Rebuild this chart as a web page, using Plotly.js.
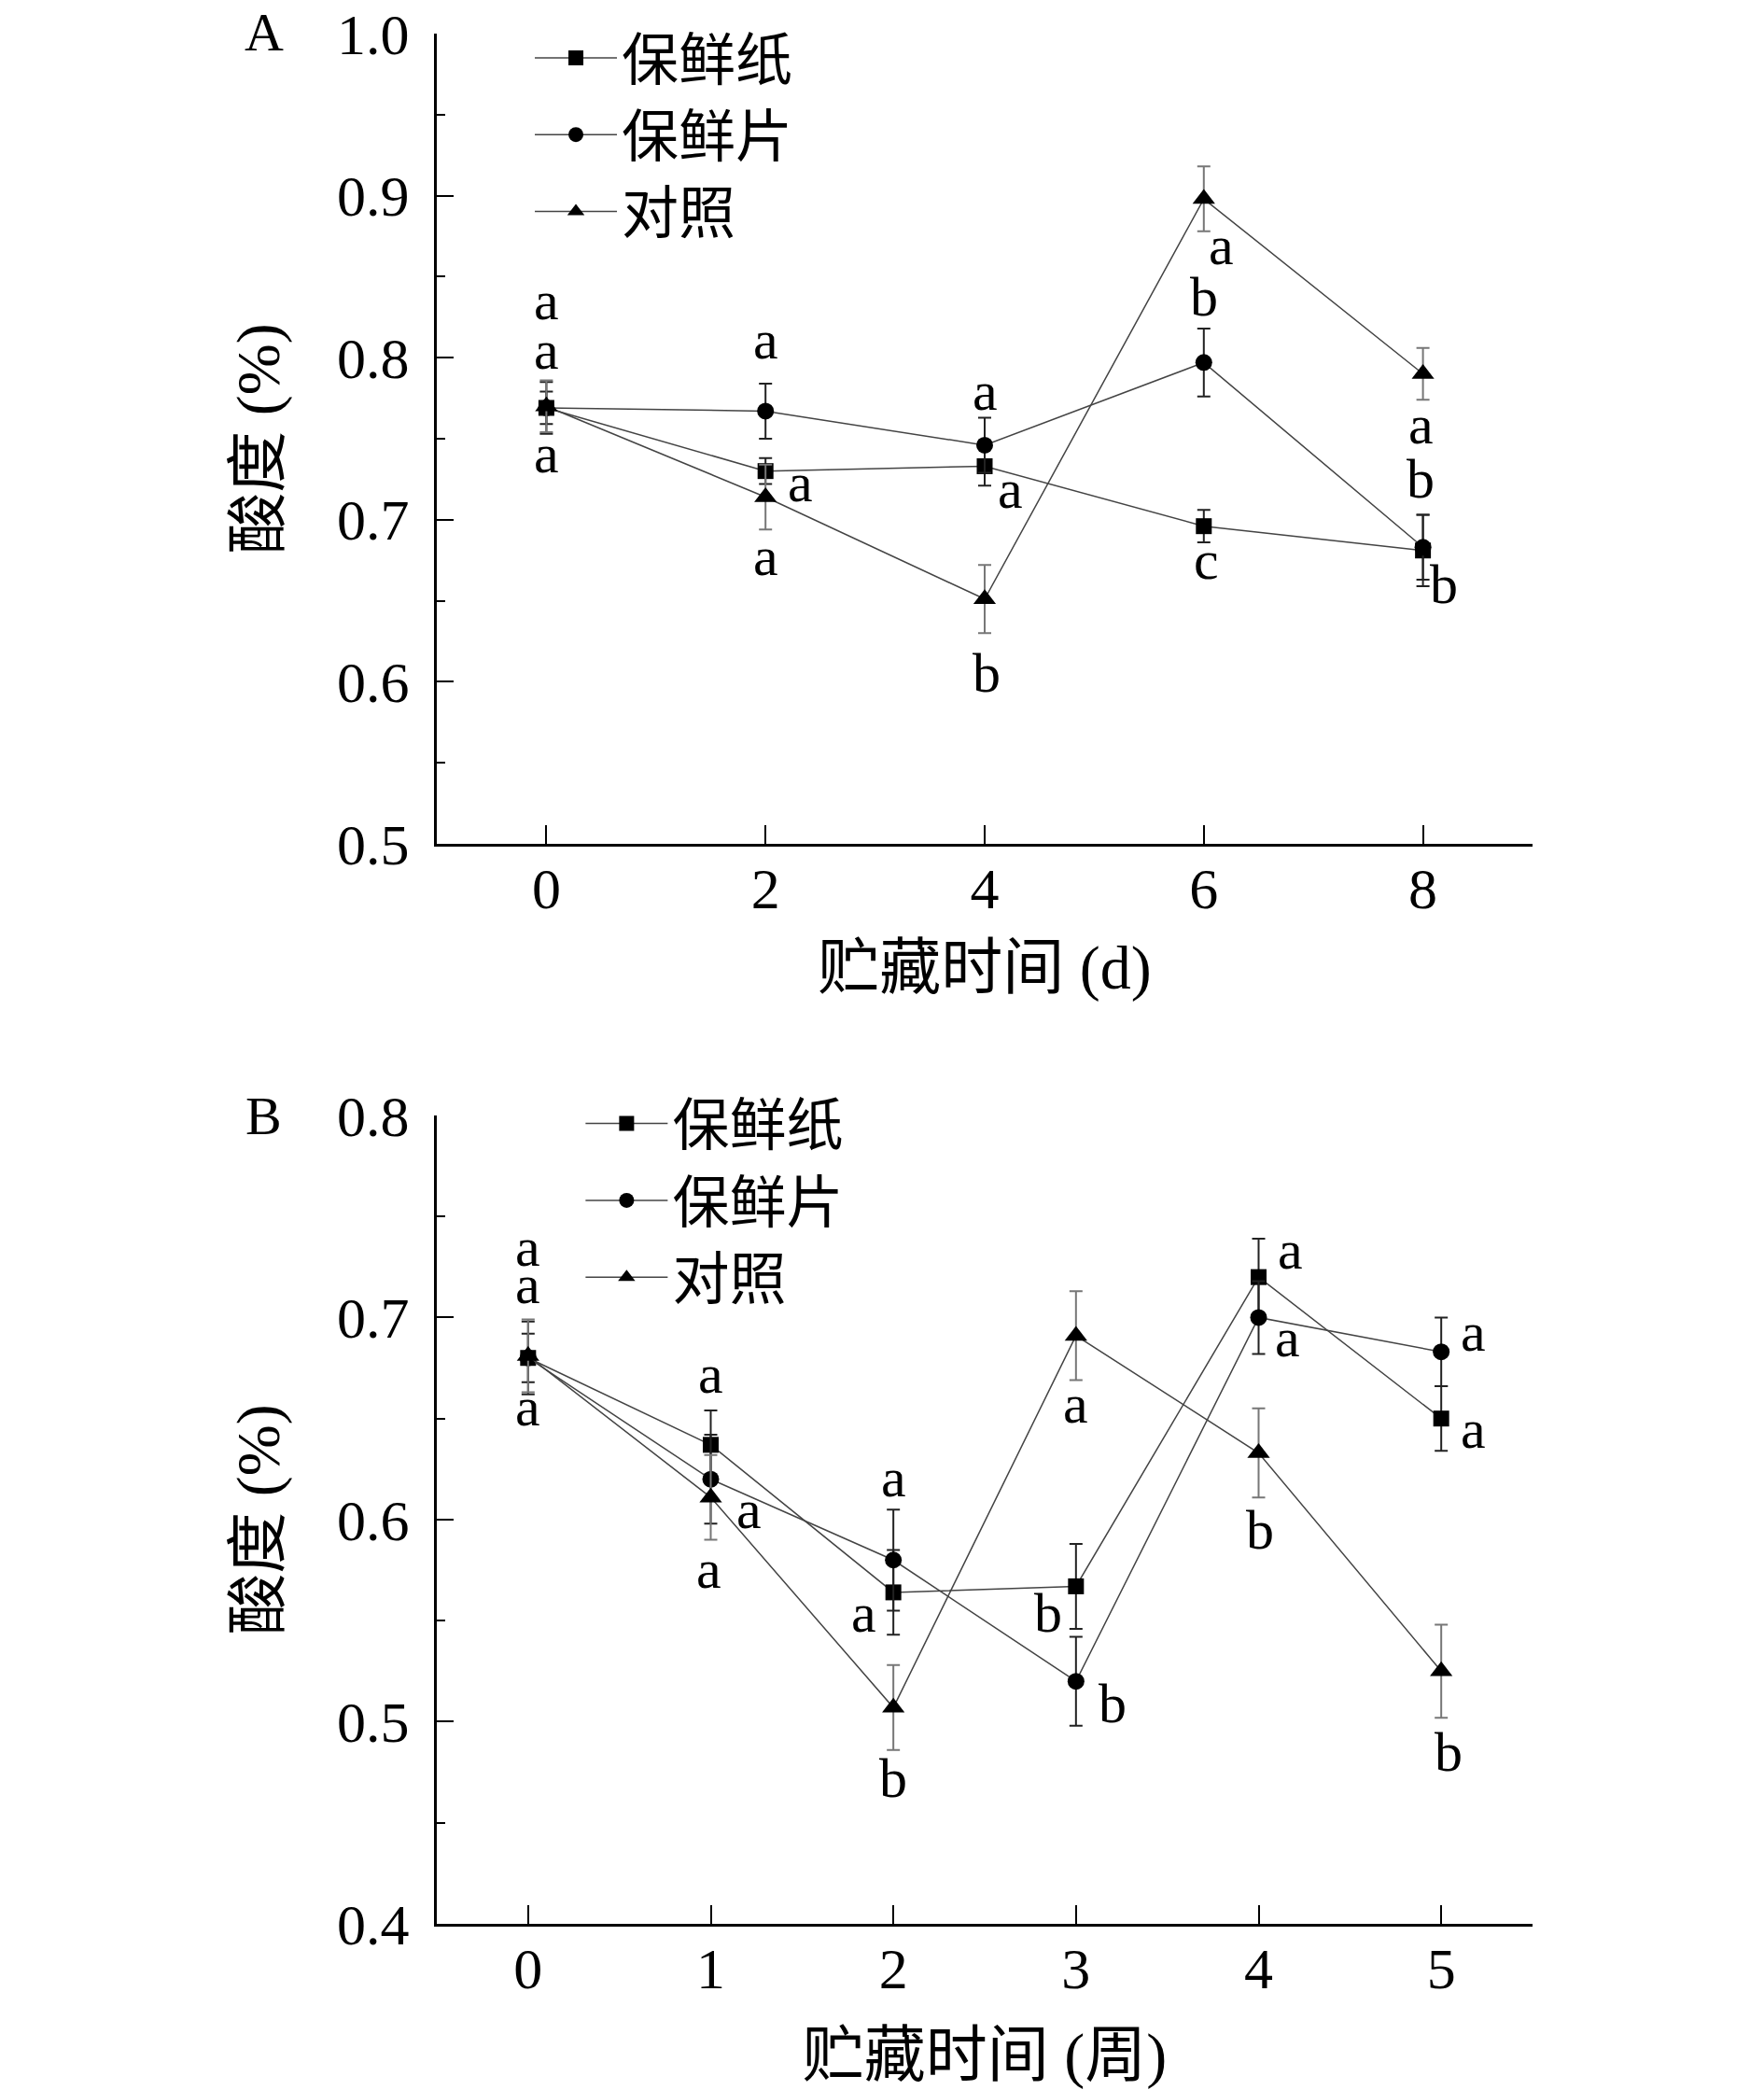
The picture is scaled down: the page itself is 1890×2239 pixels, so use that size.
<!DOCTYPE html>
<html><head><meta charset="utf-8">
<script src="https://cdn.plot.ly/plotly-3.0.1.min.js"></script>
<style>html,body{margin:0;padding:0;background:#fff}</style>
</head><body><div id="chart" style="width:1890px;height:2239px"></div>
<script>
// ---------- data: panel A (days) ----------
const daysA = [0, 2, 4, 6, 8];
const paperA = [0.769, 0.730, 0.733, 0.696, 0.681];
const paperAErr = [0.010, 0.008, 0.012, 0.010, 0.022];
const sheetA = [0.769, 0.767, 0.746, 0.797, 0.683];
const sheetAErr = [0.016, 0.017, 0.017, 0.021, 0.020];
const ctrlA = [0.770, 0.714, 0.651, 0.898, 0.790];
const ctrlAErr = [0.016, 0.020, 0.021, 0.020, 0.016];

const lettersAText = ['a','a','a', 'a','a','a', 'a','a','b', 'a','b','c', 'a','b','b'];
const lettersAX = [0, 0, 0, 2, 2.32, 2, 4, 4.23, 4.02, 6.16, 6, 6.02, 7.98, 7.98, 8.19];
const lettersAY = [0.833, 0.8026, 0.7385, 0.809, 0.7204, 0.675, 0.777, 0.7163, 0.6028, 0.8668, 0.8355, 0.6727, 0.7566, 0.7229, 0.6579];

// ---------- data: panel B (weeks) ----------
const weeksB = [0, 1, 2, 3, 4, 5];
const paperB = [0.680, 0.637, 0.564, 0.567, 0.720, 0.650];
const paperBErr = [0.012, 0.017, 0.021, 0.021, 0.019, 0.016];
const sheetB = [0.680, 0.620, 0.580, 0.520, 0.700, 0.683];
const sheetBErr = [0.018, 0.022, 0.025, 0.022, 0.018, 0.017];
const ctrlB = [0.681, 0.611, 0.507, 0.691, 0.633, 0.525];
const ctrlBErr = [0.018, 0.021, 0.021, 0.022, 0.022, 0.023];

const lettersBText = ['a','a','a', 'a','a','a', 'a','a','b', 'b','a','b', 'a','a','b', 'a','a','b'];
const lettersBX = [0, 0, 0, 1, 1.21, 0.99, 2, 1.84, 2, 2.85, 3, 3.2, 4.175, 4.16, 4.01, 5.175, 5.175, 5.04];
const lettersBY = [0.7334, 0.715, 0.6544, 0.6708, 0.6036, 0.574, 0.6194, 0.5522, 0.4705, 0.5522, 0.6557, 0.5074, 0.7321, 0.6886, 0.5937, 0.6913, 0.6432, 0.4837];

const seriesNames = ['保鲜纸', '保鲜片', '对照'];
const yTitle = '酸度 (%)';
const xTitleA = '贮藏时间 (d)';
const xTitleB = '贮藏时间 (周)';

// ---------- styling ----------
const FONT = '"Liberation Serif", "Times New Roman", "Noto Sans CJK SC", serif';
const symbols = ['square', 'circle', 'triangle-up'];
const sizes = [17, 18, 21];
const errColors = ['#222', '#222', '#777'];

function trace(x, y, err, i, xa, ya, legend) {
  return {
    x: x, y: y, name: seriesNames[i], type: 'scatter', mode: 'lines+markers',
    xaxis: xa, yaxis: ya, legend: legend,
    line: {color: '#444', width: 1.5},
    marker: {symbol: symbols[i], size: sizes[i], color: '#000'},
    error_y: {type: 'data', array: err, visible: true, color: errColors[i], thickness: 2, width: 7},
    cliponaxis: false
  };
}

const data = [
  trace(daysA, paperA, paperAErr, 0, 'x', 'y', 'legend'),
  trace(daysA, sheetA, sheetAErr, 1, 'x', 'y', 'legend'),
  trace(daysA, ctrlA, ctrlAErr, 2, 'x', 'y', 'legend'),
  trace(weeksB, paperB, paperBErr, 0, 'x2', 'y2', 'legend2'),
  trace(weeksB, sheetB, sheetBErr, 1, 'x2', 'y2', 'legend2'),
  trace(weeksB, ctrlB, ctrlBErr, 2, 'x2', 'y2', 'legend2')
];

const annotations = [];
lettersAText.forEach((t, i) => annotations.push({
  x: lettersAX[i], y: lettersAY[i], xref: 'x', yref: 'y', text: t, showarrow: false,
  xanchor: 'center', yanchor: 'middle', yshift: 4,
  font: {family: FONT, size: 60, color: '#000'}
}));
lettersBText.forEach((t, i) => annotations.push({
  x: lettersBX[i], y: lettersBY[i], xref: 'x2', yref: 'y2', text: t, showarrow: false,
  xanchor: 'center', yanchor: 'middle', yshift: 3,
  font: {family: FONT, size: 60, color: '#000'}
}));
annotations.push({x: -0.1576, y: 1.0005, xref: 'paper', yref: 'paper', text: 'A', showarrow: false,
  xanchor: 'center', yanchor: 'middle', font: {family: FONT, size: 58, color: '#000'}});
annotations.push({x: -0.1576, y: 0.4272, xref: 'paper', yref: 'paper', text: 'B', showarrow: false,
  xanchor: 'center', yanchor: 'middle', font: {family: FONT, size: 58, color: '#000'}});

function xaxis(anchor, range, dtick, title, standoff) {
  return {
    anchor: anchor, domain: [0, 1], range: range, dtick: dtick, tick0: 0,
    ticks: 'inside', ticklen: 20, tickwidth: 2, tickcolor: '#000',
    showline: true, linewidth: 3, linecolor: '#000', showgrid: false, zeroline: false,
    tickfont: {family: FONT, size: 62, color: '#000'},
    ticklabelstandoff: -8,
    title: {text: title, font: {family: FONT, size: 66, color: '#000'}, standoff: standoff}
  };
}
function yaxis(anchor, domain, range) {
  return {
    anchor: anchor, domain: domain, range: range, dtick: 0.1, tick0: 0, tickformat: '.1f',
    ticks: 'inside', ticklen: 18, tickwidth: 2, tickcolor: '#000',
    minor: {dtick: 0.05, ticks: 'inside', ticklen: 9, tickwidth: 2, tickcolor: '#000'},
    showline: true, linewidth: 3, linecolor: '#000', showgrid: false, zeroline: false,
    tickfont: {family: FONT, size: 62, color: '#000'},
    ticklabelstandoff: 14,
    title: {text: yTitle, font: {family: FONT, size: 66, color: '#000'}, standoff: 40}
  };
}

const legendCommon = {xanchor: 'left', yanchor: 'top', bgcolor: 'rgba(0,0,0,0)', itemwidth: 88,
  font: {family: FONT, size: 61, color: '#000'}};

const layout = {
  width: 1890, height: 2239,
  margin: {l: 468, r: 248, t: 36, b: 178},
  paper_bgcolor: '#fff', plot_bgcolor: '#fff',
  font: {family: FONT, color: '#000'},
  xaxis: xaxis('y', [-1, 9], 2, xTitleA, 28),
  yaxis: yaxis('x', [0.5714, 1], [0.5, 1.0]),
  xaxis2: xaxis('y2', [-0.5, 5.5], 1, xTitleB, 36),
  yaxis2: yaxis('x2', [0, 0.4277], [0.4, 0.8]),
  legend: Object.assign({x: 0.0852, y: 1.01}, legendCommon),
  legend2: Object.assign({x: 0.1315, y: 0.4462}, legendCommon),
  showlegend: true,
  annotations: annotations
};

Plotly.newPlot('chart', data, layout, {displayModeBar: false, staticPlot: true});
</script></body></html>
